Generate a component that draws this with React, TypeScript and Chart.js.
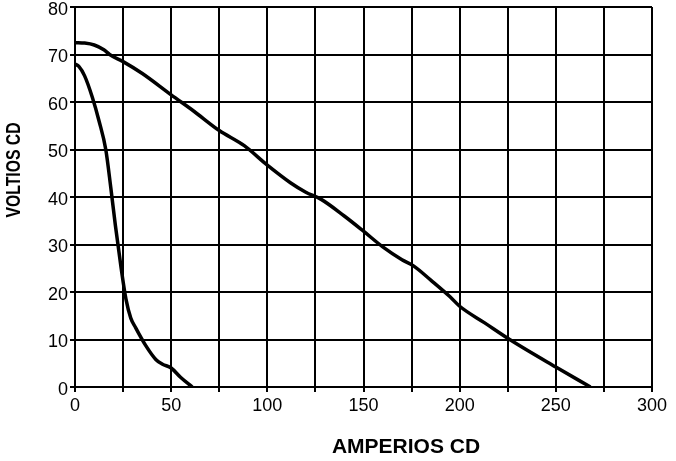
import React, { useEffect, useRef } from "react";
import { Chart, registerables } from "chart.js";

Chart.register(...registerables);

const xTitle = "AMPERIOS CD";
const yTitle = "VOLTIOS CD";

const xMin = 0;
const xMax = 300;
const xStep = 25;
const xLabelEvery = 50;
const yMin = 0;
const yMax = 80;
const yStep = 10;

// Upper curve (amps, volts)
const curveAX = [0, 5, 10, 15, 18, 25, 35, 50, 62, 75, 88, 100, 112, 120, 128, 140, 150, 160, 170, 176, 185, 195, 200, 213, 226, 250, 268];
const curveAY = [72.5, 72.4, 72, 71, 70, 68.5, 66, 61.5, 58, 54, 50.8, 46.7, 43, 41, 39.5, 36, 32.8, 29.5, 26.8, 25.5, 22.5, 19, 17, 13.5, 10, 4.2, 0];

// Lower steep curve (amps, volts)
const curveBX = [0, 2, 5, 9, 12.5, 16, 18.6, 21, 24, 26.5, 29, 31.5, 36.8, 42, 45.5, 50, 55, 61];
const curveBY = [68, 67.5, 65.5, 61, 56, 50, 42, 34, 25, 18.5, 14.5, 12.5, 8.7, 5.8, 4.8, 4, 2, 0];

const toPoints = (xs: number[], ys: number[]) => xs.map((x, i) => ({ x, y: ys[i] }));

const titlePlugin = {
  id: "customTitles",
  afterDraw(chart: any) {
    const { ctx, chartArea } = chart;
    ctx.save();
    ctx.fillStyle = "#000";
    ctx.textAlign = "center";
    ctx.textBaseline = "middle";
    ctx.font = "bold 21px 'Liberation Sans', Arial, sans-serif";
    ctx.fillText(xTitle, chartArea.left + 331, chartArea.bottom + 60);
    ctx.translate(14, chartArea.top + 163);
    ctx.rotate(-Math.PI / 2);
    ctx.scale(0.75, 1);
    ctx.fillText(yTitle, 0, 0);
    ctx.restore();
  },
};

export default function App() {
  const ref = useRef<HTMLCanvasElement>(null);
  useEffect(() => {
    if (!ref.current) return;
    const chart = new Chart(ref.current, {
      type: "line",
      data: {
        datasets: [
          {
            data: toPoints(curveAX, curveAY),
            borderColor: "#000",
            borderWidth: 3.5,
            pointRadius: 0,
            cubicInterpolationMode: "monotone",
            fill: false,
          },
          {
            data: toPoints(curveBX, curveBY),
            borderColor: "#000",
            borderWidth: 3.5,
            pointRadius: 0,
            cubicInterpolationMode: "monotone",
            fill: false,
          },
        ],
      },
      options: {
        responsive: false,
        animation: false,
        events: [],
        layout: { padding: { left: 0, top: 7, right: 24, bottom: 0 } },
        plugins: { legend: { display: false }, tooltip: { enabled: false }, title: { display: false } },
        scales: {
          x: {
            type: "linear",
            min: xMin,
            max: xMax,
            afterFit: (s: any) => {
              s.height = 74;
              s.paddingLeft = 0;
              s.paddingRight = 0;
            },
            ticks: {
              stepSize: xStep,
              color: "#000",
              padding: 3,
              maxRotation: 0,
              autoSkip: false,
              font: { family: "'Liberation Sans', Arial, sans-serif", size: 18 },
              callback: (v: any) => (Number(v) % xLabelEvery === 0 ? String(v) : ""),
            },
            grid: { color: "#000", lineWidth: 2, tickLength: 5, drawTicks: true },
            border: { color: "#000", width: 2 },
          },
          y: {
            type: "linear",
            min: yMin,
            max: yMax,
            afterFit: (s: any) => {
              s.width = 75;
              s.paddingTop = 0;
              s.paddingBottom = 0;
            },
            ticks: {
              stepSize: yStep,
              color: "#000",
              padding: 2,
              labelOffset: 3,
              font: { family: "'Liberation Sans', Arial, sans-serif", size: 18 },
            },
            grid: { color: "#000", lineWidth: 2, tickLength: 5, drawTicks: true },
            border: { color: "#000", width: 2 },
          },
        },
      },
      plugins: [titlePlugin],
    } as any);
    return () => chart.destroy();
  }, []);
  return (
    <div style={{ position: "fixed", left: 0, top: 0, width: 676, height: 461, background: "#fff" }}>
      <canvas ref={ref} width={676} height={461} style={{ width: 676, height: 461, display: "block" }} />
    </div>
  );
}
